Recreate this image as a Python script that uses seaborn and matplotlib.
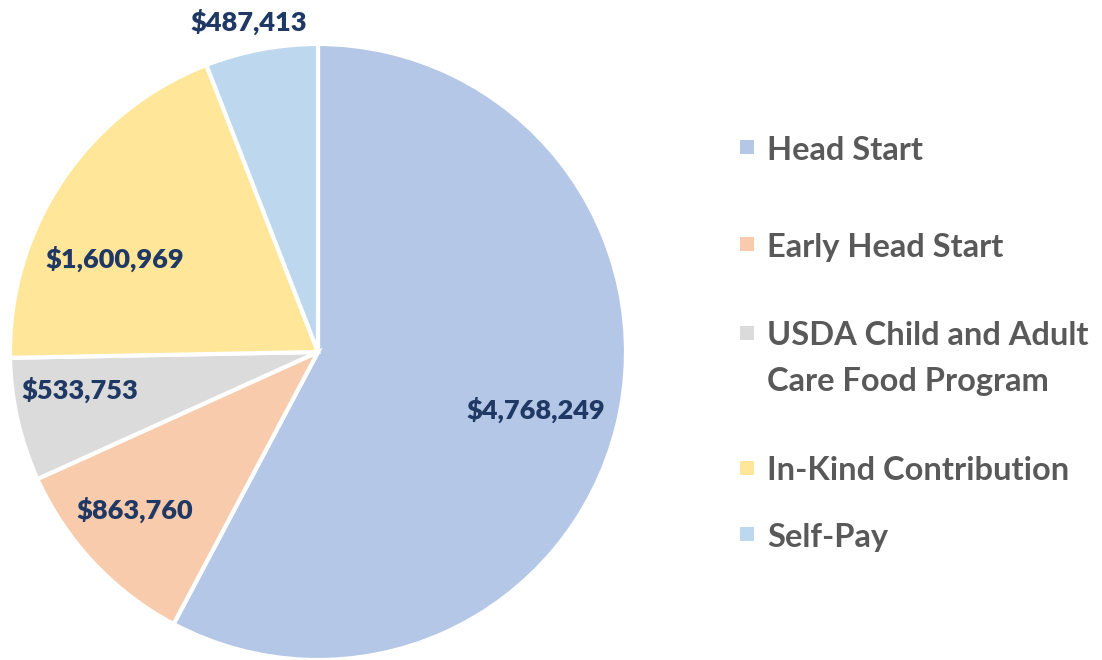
import matplotlib
matplotlib.use("Agg")
import matplotlib.pyplot as plt
from matplotlib.patches import Rectangle
import numpy as np
import seaborn as sns

categories = ["Head Start", "Early Head Start", "USDA Child and Adult\nCare Food Program",
              "In-Kind Contribution", "Self-Pay"]
values = [4768249, 863760, 533753, 1600969, 487413]
colors_hex = ["#B4C7E7", "#F8CBAD", "#DBDBDB", "#FFE699", "#BDD7EE"]
label_dist = [0.73, 0.785, 0.783, 0.725, 1.094]
label_angle_shift = [-0.8, -2.4, -3.8, 9.3, 1.2]
legend_y = [147, 244, 333, 468, 534]

sns.set_theme(style="white")
plt.rcParams['font.family'] = ['Lato', 'DejaVu Sans']

palette = sns.color_palette(colors_hex)
W, H = 1102, 660
fig = plt.figure(figsize=(W / 100, H / 100), dpi=100)
ax = fig.add_axes([10 / W, 0, 616 / W, 616 / H])
wedges, _ = ax.pie(values, colors=palette, startangle=90, counterclock=False,
                   radius=1.0, wedgeprops=dict(edgecolor="white", linewidth=3))
ax.set_xlim(-1, 1)
ax.set_ylim(-1, 1)
ax.set_aspect("equal")
ax.axis("off")

for w, v, d, s in zip(wedges, values, label_dist, label_angle_shift):
    ang = np.deg2rad((w.theta1 + w.theta2) / 2 + s)
    ax.text(d * np.cos(ang), d * np.sin(ang), f"${v:,}", ha="center", va="center",
            fontsize=19.5, fontweight="heavy", color="#203864", clip_on=False)

for cat, col, y in zip(categories, palette, legend_y):
    fig.patches.append(Rectangle((740 / W, 1 - (y + 7) / H), 14 / W, 14 / H,
                                 transform=fig.transFigure, facecolor=col, edgecolor="none"))
    lines = cat.split("\n")
    for i, line in enumerate(lines):
        fig.text(767 / W, 1 - (y + 3 + i * 46) / H, line, ha="left", va="center",
                 fontsize=23.5, fontweight="bold", color="#595959")

fig.savefig("out.png", dpi=100, facecolor="white")
